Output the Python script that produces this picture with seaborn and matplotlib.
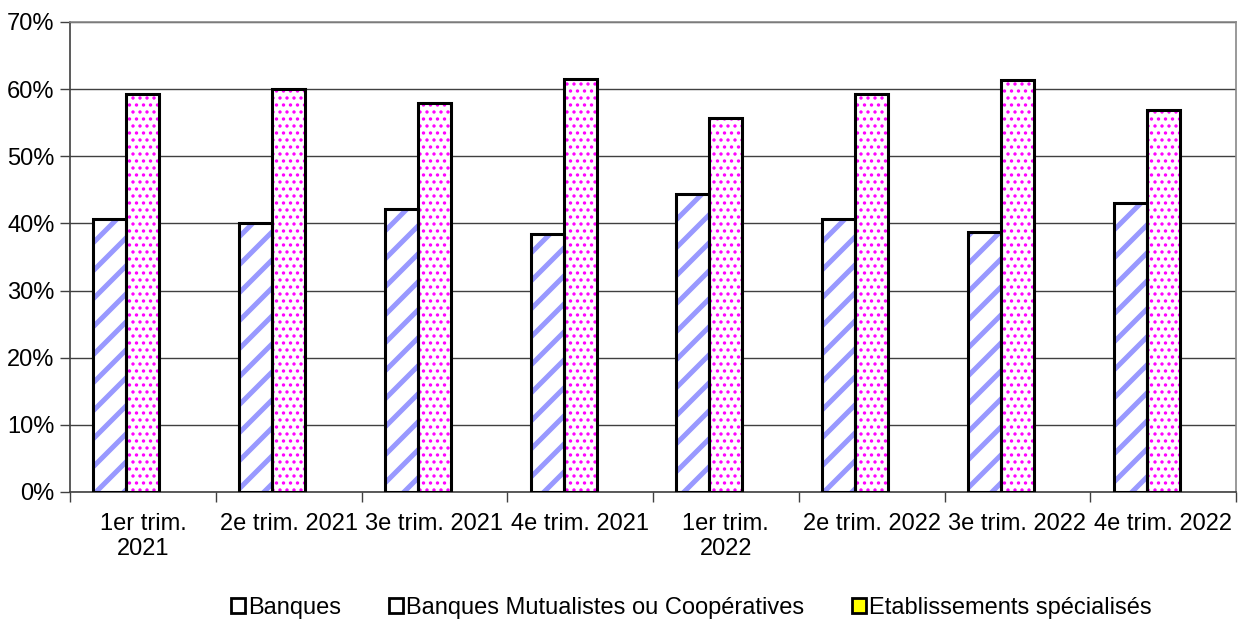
import matplotlib
matplotlib.use("Agg")
import matplotlib.pyplot as plt
import seaborn as sns
import pandas as pd
from matplotlib.patches import Patch
from matplotlib.ticker import FixedLocator, FuncFormatter

categories = ["1er trim.\n2021", "2e trim. 2021", "3e trim. 2021", "4e trim. 2021",
              "1er trim.\n2022", "2e trim. 2022", "3e trim. 2022", "4e trim. 2022"]
series = ["Banques", "Banques Mutualistes ou Coopératives", "Etablissements spécialisés"]
banques = [40.6, 40.0, 42.1, 38.5, 44.4, 40.7, 38.7, 43.1]
mutualistes = [59.3, 60.0, 58.0, 61.5, 55.7, 59.3, 61.3, 56.9]
specialises = [0.0, 0.0, 0.0, 0.0, 0.0, 0.0, 0.0, 0.0]
y_ticks = [0, 10, 20, 30, 40, 50, 60, 70]

rows = []
for name, vals in zip(series, [banques, mutualistes, specialises]):
    for c, v in zip(categories, vals):
        rows.append({"cat": c, "val": v, "series": name})
df = pd.DataFrame(rows)

DPI = 84
K = 100 / DPI  # sizes tuned for 100 dpi, rescaled

sns.set_style("white")
plt.rcParams['font.family'] = ['Liberation Sans', 'DejaVu Sans']
plt.rcParams['text.color'] = 'black'
plt.rcParams['xtick.color'] = 'black'
plt.rcParams['ytick.color'] = 'black'
plt.rcParams['hatch.linewidth'] = 3.6 * K

fig = plt.figure(figsize=(1239 / DPI, 623 / DPI), dpi=DPI)
ax = fig.add_axes([70/1239, 1-492/623, (1236-70)/1239, (492-22)/623])

hatch_colors = ["#9999ff", "#ff00ff", "#ffff00"]
n = len(categories)

# Layer 1: fills with coloured hatch patterns
sns.barplot(data=df, x="cat", y="val", hue="series", hue_order=series, order=categories,
            palette=["white", "white", "#ffff00"], width=0.68, gap=0, saturation=1,
            linewidth=0, legend=False, ax=ax, zorder=3)
fill_patches = list(ax.patches)
hatches = ["/", "..", ""]
for i, p in enumerate(fill_patches):
    s = i // n
    if s >= 3:
        continue
    p.set_edgecolor(hatch_colors[s])
    p.set_linewidth(0)
    if hatches[s]:
        p.set_hatch(hatches[s])
        if hasattr(p, "set_hatch_linewidth"):
            p.set_hatch_linewidth((3.6 if s == 0 else 1.4) * K)

# Layer 2: black outlines
sns.barplot(data=df, x="cat", y="val", hue="series", hue_order=series, order=categories,
            palette=["white", "white", "#ffff00"], width=0.68, gap=0, saturation=1,
            linewidth=2.2 * K, edgecolor="black", legend=False, ax=ax, zorder=4)
outline_patches = ax.patches[len(fill_patches):]
for i, p in enumerate(outline_patches):
    s = i // n
    p.set_facecolor("none")
    p.set_edgecolor("black")
    p.set_linewidth(0 if s == 2 else 2.2 * K)

ax.set_xlim(-0.5, n - 0.5)
ax.set_ylim(0, 70)
ax.yaxis.set_major_locator(FixedLocator(y_ticks))
ax.yaxis.set_major_formatter(FuncFormatter(lambda v, _: f"{int(v)}%"))
ax.set_xlabel("")
ax.set_ylabel("")
ax.grid(axis="y", color="#404040", linewidth=1.0 * K, zorder=0)
ax.set_axisbelow(True)

ax.set_xticks(range(n))
ax.set_xticklabels(categories, linespacing=1.2)
ax.set_xticks([i - 0.5 for i in range(n + 1)], minor=True)
ax.tick_params(axis="x", which="major", length=0, pad=15 * K, labelsize=17 * K)
ax.tick_params(axis="x", which="minor", length=7 * K, width=1 * K, color="#404040", direction="out")
ax.tick_params(axis="y", length=7 * K, width=1 * K, color="#404040", direction="out",
               pad=4 * K, labelsize=17 * K)
ax.tick_params(bottom=True, left=True, which="both")

for side in ["left", "bottom"]:
    ax.spines[side].set_color("#404040")
    ax.spines[side].set_linewidth(1.2 * K)
for side in ["top", "right"]:
    ax.spines[side].set_color("#888888")
    ax.spines[side].set_linewidth(1.2 * K)

handles = [
    Patch(facecolor="white", edgecolor="black", linewidth=2 * K, label=series[0]),
    Patch(facecolor="white", edgecolor="black", linewidth=2 * K, label=series[1]),
    Patch(facecolor="#ffff00", edgecolor="black", linewidth=2 * K, label=series[2]),
]
fig.legend(handles=handles, labels=series, loc="center", bbox_to_anchor=(0.558, 1 - 608/623),
           ncol=3, frameon=False, fontsize=17 * K, handlelength=0.6, handleheight=0.6,
           handletextpad=0.15, columnspacing=2.0)

fig.savefig("out.png", dpi=DPI)
